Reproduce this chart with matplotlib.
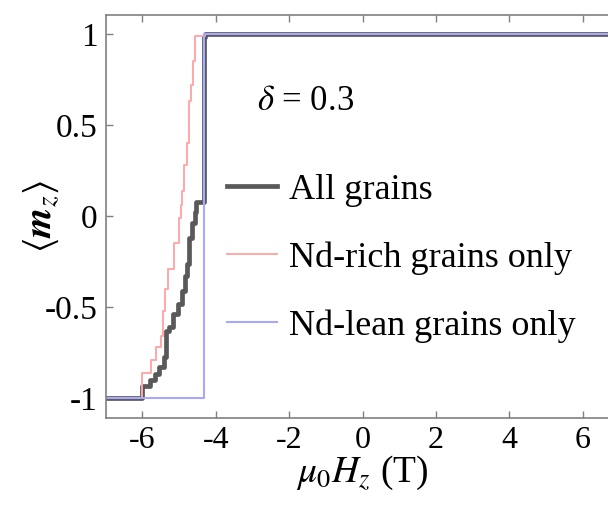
import matplotlib
matplotlib.use("Agg")
import matplotlib.pyplot as plt

plt.rcParams['font.family'] = ['Liberation Serif', 'DejaVu Serif']
plt.rcParams['mathtext.fontset'] = 'stix'
plt.rcParams['axes.unicode_minus'] = False

# field (T) where each step starts, and <m_z> after the step
all_h = [-7.0, -6.0, -5.8, -5.65, -5.55, -5.42, -5.37, -5.28, -5.18, -5.02,
         -4.93, -4.85, -4.79, -4.73, -4.66, -4.58, -4.54, -4.33, -4.30, 7.0]
all_m = [-1.0, -0.93, -0.90, -0.865, -0.83, -0.77, -0.63, -0.61, -0.535, -0.48,
         -0.41, -0.33, -0.26, -0.12, -0.04, 0.02, 0.08, 0.985, 1.0, 1.0]

rich_h = [-7.0, -6.0, -5.78, -5.62, -5.50, -5.45, -5.38, -5.31, -5.15, -5.00,
          -4.96, -4.91, -4.87, -4.80, -4.74, -4.67, -4.62, -4.56, -4.30, 7.0]
rich_m = [-1.0, -0.86, -0.79, -0.72, -0.655, -0.52, -0.40, -0.29, -0.15, -0.01,
          0.06, 0.14, 0.28, 0.40, 0.63, 0.72, 0.85, 0.99, 1.0, 1.0]

lean_h = [-7.0, -4.33, 7.0]
lean_m = [-1.0, 1.0, 1.0]

labels = ["All grains", "Nd-rich grains only", "Nd-lean grains only"]
xticks = [-6, -4, -2, 0, 2, 4, 6]
yticks = [-1, -0.5, 0, 0.5, 1]
ytick_labels = ["-1", "-0.5", "0", "0.5", "1"]

fig = plt.figure(figsize=(6.08, 5.05), dpi=100)
ax = fig.add_axes([0.174, 0.173, 0.845, 0.798])

ax.step(all_h, all_m, where="post", color="#595959", lw=3.4, label=labels[0])
ax.step(rich_h, rich_m, where="post", color="#ffa8a8", lw=1.4, label=labels[1])
ax.step(lean_h, lean_m, where="post", color="#a8a8ff", lw=1.5, label=labels[2])

ax.set_xlim(-7, 7)
ax.set_ylim(-1.105, 1.105)
ax.set_xticks(xticks)
ax.set_xticklabels([str(t) for t in xticks])
ax.set_yticks(yticks)
ax.set_yticklabels(ytick_labels)
ax.tick_params(direction="in", length=5, width=1, color="#808080",
               top=True, right=True, pad=6)
ax.tick_params(axis="x", labelsize=23)
ax.tick_params(axis="y", labelsize=24)
for sp in ax.spines.values():
    sp.set_color("#808080")
    sp.set_linewidth(1.2)

ax.set_xlabel(r"$\mu_0H_z$ (T)", fontsize=27)
ax.xaxis.set_label_coords(0.5, -0.09)
ax.set_ylabel(r"$\left\langle \mathbfit{m}_z \right\rangle$", fontsize=28)
ax.yaxis.set_label_coords(-0.088, 0.5)

ax.text(-2.87, 0.63, r"$\delta$ = 0.3", fontsize=25, va="center")

ax.legend(loc="upper left", bbox_to_anchor=(0.235, 0.605), frameon=False,
          fontsize=26, handlelength=1.4, handletextpad=0.34, labelspacing=0.95,
          borderpad=0, borderaxespad=0)

fig.savefig("out.png", dpi=100)
